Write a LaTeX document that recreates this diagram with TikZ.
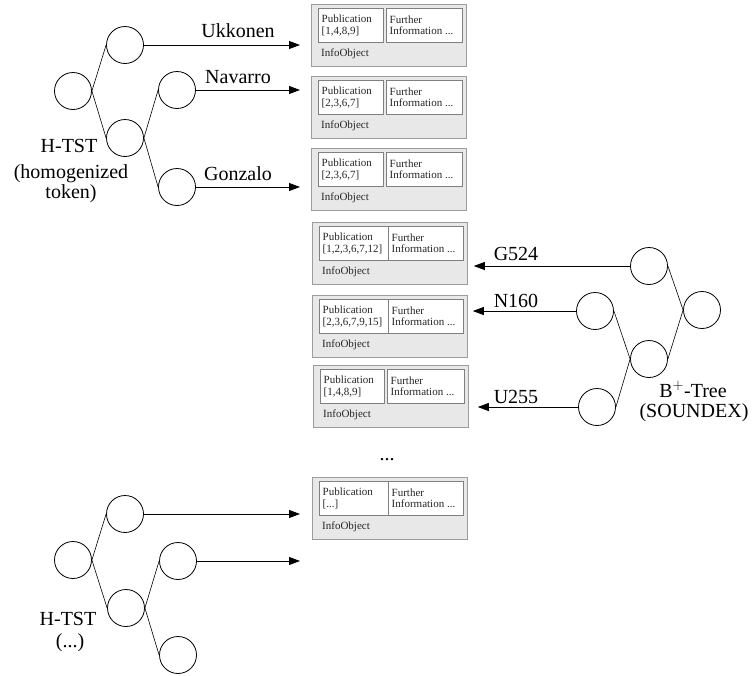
\documentclass[tikz,border=0pt]{standalone}
\usepackage{fontspec}
\setmainfont{Liberation Serif}
\usetikzlibrary{arrows.meta}

\definecolor{boxfill}{HTML}{E8E8E8}
\definecolor{boxedge}{HTML}{9C9C9C}
\definecolor{inneredge}{HTML}{808080}

% One InfoObject record: name, left x, top y, width of the publication cell,
% gap between the two cells, publication list
\newcommand\infoobject[6]{%
  \node[outerbox,anchor=north west] (#1) at (#2,#3) {};
  \node[innerbox,anchor=north west,minimum width={#4}] (#1p) at ({#2+7},{#3+4}) {};
  \node[innerbox,anchor=north west,minimum width={144-#4-#5}] (#1f) at ({#2+7+#4+#5},{#3+4}) {};
  \node[boxtext,anchor=west] (#1pt) at ([xshift=3.5pt]#1p.west) {Publication\\{}#6};
  \node[boxtext,anchor=west] (#1ft) at ([xshift=3.5pt]#1f.west) {Further\\{}Information ...};
  \node[boxtext,anchor=base west] (#1l) at ({#2+10},{#3+52}) {InfoObject};
}

\begin{document}
\begin{tikzpicture}[x=1pt,y=-1pt,
  tnode/.style={circle,draw,minimum size=37pt,inner sep=0pt,line width=0.8pt},
  edge/.style={line width=0.6pt},
  arr/.style={-{Triangle[length=11pt,width=8pt]},line width=0.8pt},
  biglabel/.style={font=\fontsize{20}{23}\selectfont,inner sep=0pt,anchor=base},
  outerbox/.style={rectangle,draw=boxedge,fill=boxfill,minimum width=155,minimum height=62,inner sep=0pt,line width=0.8pt},
  innerbox/.style={rectangle,draw=inneredge,fill=white,minimum height=34,inner sep=0pt,line width=0.7pt},
  boxtext/.style={font=\fontsize{11}{11.5}\selectfont,text=black!85,align=left,inner sep=0pt}]
\useasboundingbox (0,0) rectangle (752,675);

% InfoObject records
\infoobject{b1}{311}{4}{65}{3}{[1,4,8,9]}
\infoobject{b2}{311}{76}{65}{3}{[2,3,6,7]}
\infoobject{b3}{311}{148}{65}{3}{[2,3,6,7]}
\infoobject{b4}{312}{222}{69}{0}{[1,2,3,6,7,12]}
\infoobject{b5}{312}{295}{69}{0}{[2,3,6,7,9,15]}
\infoobject{b6}{313}{365}{64}{3}{[1,4,8,9]}
\infoobject{b7}{312}{477}{69}{0}{[...]}
\node[biglabel] (dots) at (387,460) {...};

% upper H-TST
\node[tnode] (r1) at (73,91) {};
\node[tnode] (a1) at (125,45) {};
\node[tnode] (m1) at (125,138) {};
\node[tnode] (n1) at (177,90) {};
\node[tnode] (g1) at (177,187) {};
\draw[edge] (r1.east) -- (a1.west);
\draw[edge] (r1.east) -- (m1.west);
\draw[edge] (m1.east) -- (n1.west);
\draw[edge] (m1.east) -- (g1.west);
\node[biglabel] (h1a) at (69,152) {H-TST};
\node[biglabel] (h1b) at (71,178) {(homogenized};
\node[biglabel] (h1c) at (71,198) {token)};

\draw[arr,shorten >=11pt] (a1.east) -- (a1.east -| b1.west);
\draw[arr,shorten >=11pt] (n1.east) -- (n1.east -| b2.west);
\draw[arr,shorten >=11pt] (g1.east) -- (g1.east -| b3.west);
\node[biglabel] (lu) at (238,37) {Ukkonen};
\node[biglabel] (ln) at (238,83) {Navarro};
\node[biglabel] (lg) at (238,180) {Gonzalo};

% B+-tree over SOUNDEX codes
\node[tnode] (gr) at (649,266) {};
\node[tnode] (rr) at (702,310) {};
\node[tnode] (mr) at (649,359) {};
\node[tnode] (nr) at (595,311) {};
\node[tnode] (ur) at (597,407) {};
\draw[edge] (rr.west) -- (gr.east);
\draw[edge] (rr.west) -- (mr.east);
\draw[edge] (mr.west) -- (nr.east);
\draw[edge] (mr.west) -- (ur.east);
\node[biglabel] (bt) at (693,397) {B$^{+}$-Tree};
\node[biglabel] (bs) at (694,417) {(SOUNDEX)};

\draw[arr,shorten >=6pt] (gr.west) -- (gr.west -| b4.east);
\draw[arr,shorten >=5pt] (nr.west) -- (nr.west -| b5.east);
\draw[arr,shorten >=9pt] (ur.west) -- (ur.west -| b6.east);
\node[biglabel] (lg5) at (516,260) {G524};
\node[biglabel] (ln1) at (516,307) {N160};
\node[biglabel] (lu2) at (516,403) {U255};

% lower H-TST
\node[tnode] (r3) at (73,560) {};
\node[tnode] (a3) at (125,514) {};
\node[tnode] (m3) at (126,608) {};
\node[tnode] (n3) at (178,561) {};
\node[tnode] (g3) at (178,655) {};
\draw[edge] (r3.east) -- (a3.west);
\draw[edge] (r3.east) -- (m3.west);
\draw[edge] (m3.east) -- (n3.west);
\draw[edge] (m3.east) -- (g3.west);
\node[biglabel] (h3a) at (68,625) {H-TST};
\node[biglabel] (h3b) at (70,647) {(...)};

\coordinate (e8) at (300,561);
\draw[arr,shorten >=12pt] (a3.east) -- (a3.east -| b7.west);
\draw[arr] (n3.east) -- (e8);
\end{tikzpicture}
\end{document}
